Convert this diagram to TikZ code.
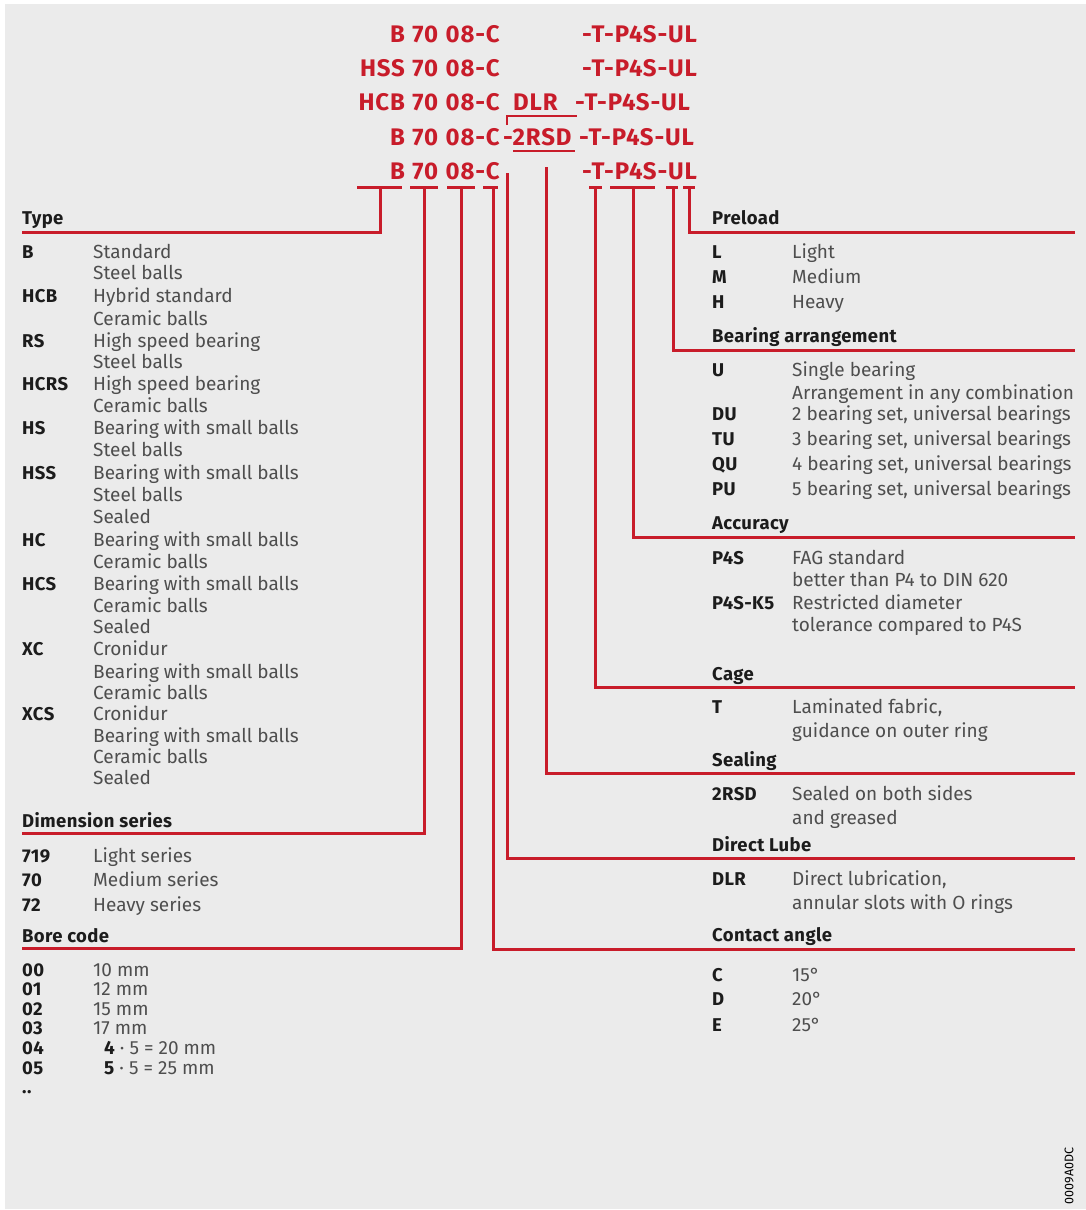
\documentclass[tikz,border=0pt]{standalone}
\usepackage{fontspec}
\setmainfont{Fira Sans}[BoldFeatures={LetterSpace=2}]
\newfontfamily\partfont{Fira Sans}[LetterSpace=3.5,WordSpace=1.15]
\usepackage{tikz}
\usetikzlibrary{positioning}
\usepackage{xcolor}
\definecolor{fagred}{RGB}{200,28,42}
\definecolor{panelgray}{RGB}{235,235,235}
\definecolor{desctext}{RGB}{78,78,78}
\definecolor{labtext}{RGB}{28,28,28}

\begin{document}
\begin{tikzpicture}[x=1pt, y=-1pt,
  partno/.style={text=fagred, font=\fontsize{24}{28}\partfont\bfseries, inner sep=0pt, anchor=base west},
  lab/.style={text=labtext, font=\fontsize{18.5}{22}\selectfont\bfseries, inner sep=0pt, anchor=base west},
  hdr/.style={text=labtext, font=\fontsize{18.5}{22}\selectfont\bfseries, inner sep=0pt, anchor=base west},
  desc/.style={text=desctext, font=\fontsize{19}{22}\selectfont, inner sep=0pt, anchor=base west},
  leader/.style={draw=fagred, line width=3pt}]
\useasboundingbox (0,0) rectangle (1086,1210);
\fill[white] (0,0) rectangle (1086,1210);
\fill[panelgray] (5,4) rectangle (1086,1209);

% ordering designations
\node[partno, anchor=base east] (p1a) at (500,42) {B 70 08-C};
\node[partno] (p1b) at (582,42) {-T-P4S-UL};
\node[partno, anchor=base east] (p2a) at (500,76) {HSS 70 08-C};
\node[partno] (p2b) at (582,76) {-T-P4S-UL};
\node[partno, anchor=base east] (p3a) at (500,110) {HCB 70 08-C};
\node[partno] (p3dlr) at (513,110) {DLR};
\node[partno] (p3b) at (575,110) {-T-P4S-UL};
\node[partno, anchor=base east] (p4a) at (500,145) {B 70 08-C};
\node[partno] (p4rsd) at (503,145) {-2RSD};
\node[partno] (p4b) at (579,145) {-T-P4S-UL};
\node[partno, anchor=base east] (p5a) at (500,179) {B 70 08-C};
\node[partno] (p5b) at (582,179) {-T-P4S-UL};
\draw[leader, line width=2.6pt] (507,125) |- (577,116);
\draw[leader, line width=2.6pt] (513,151) -- (575,151);

% bars under the code parts
\draw[leader] (357,187) -- (402,187);
\draw[leader] (410,187) -- (438,187);
\draw[leader] (447,187) -- (475,187);
\draw[leader] (483,187) -- (498,187);
\draw[leader] (589,187) -- (602,187);
\draw[leader] (610,187) -- (655,187);
\draw[leader] (666,187) -- (678,187);
\draw[leader] (683,187) -- (695,187);
\coordinate (kType) at (380,187);
\coordinate (kDim) at (424,187);
\coordinate (kBore) at (461,187);
\coordinate (kAngle) at (493,187);
\coordinate (kLube) at (507,173);
\coordinate (kSeal) at (546,167);
\coordinate (kCage) at (595,187);
\coordinate (kAcc) at (633,187);
\coordinate (kArr) at (673,187);
\coordinate (kPre) at (689,187);
\coordinate (rType) at (22,232);
\coordinate (rDim) at (22,833);
\coordinate (rBore) at (22,948);
\coordinate (rAngle) at (1075,949);
\coordinate (rLube) at (1075,858);
\coordinate (rSeal) at (1075,773);
\coordinate (rCage) at (1075,687);
\coordinate (rAcc) at (1075,537);
\coordinate (rArr) at (1075,350);
\coordinate (rPre) at (1075,232);
\draw[leader] (kType) |- (rType);
\draw[leader] (kDim) |- (rDim);
\draw[leader] (kBore) |- (rBore);
\draw[leader] (kAngle) |- (rAngle);
\draw[leader] (kLube) |- (rLube);
\draw[leader] (kSeal) |- (rSeal);
\draw[leader] (kCage) |- (rCage);
\draw[leader] (kAcc) |- (rAcc);
\draw[leader] (kArr) |- (rArr);
\draw[leader] (kPre) |- (rPre);

% left column
\node[hdr] (hType) at (22,224) {Type};
\node[lab] (tB) at (22,258) {B};
\node[desc] (tBa) at (93,258) {Standard};
\node[desc] (tBb) at (93,279) {Steel balls};
\node[lab] (tHCB) at (22,302) {HCB};
\node[desc] (tHCBa) at (93,302) {Hybrid standard};
\node[desc] (tHCBb) at (93,325) {Ceramic balls};
\node[lab] (tRS) at (22,347) {RS};
\node[desc] (tRSa) at (93,347) {High speed bearing};
\node[desc] (tRSb) at (93,368) {Steel balls};
\node[lab] (tHCRS) at (22,390) {HCRS};
\node[desc] (tHCRSa) at (93,390) {High speed bearing};
\node[desc] (tHCRSb) at (93,412) {Ceramic balls};
\node[lab] (tHS) at (22,434) {HS};
\node[desc] (tHSa) at (93,434) {Bearing with small balls};
\node[desc] (tHSb) at (93,456) {Steel balls};
\node[lab] (tHSS) at (22,479) {HSS};
\node[desc] (tHSSa) at (93,479) {Bearing with small balls};
\node[desc] (tHSSb) at (93,501) {Steel balls};
\node[desc] (tHSSc) at (93,523) {Sealed};
\node[lab] (tHC) at (22,546) {HC};
\node[desc] (tHCa) at (93,546) {Bearing with small balls};
\node[desc] (tHCb) at (93,568) {Ceramic balls};
\node[lab] (tHCS) at (22,590) {HCS};
\node[desc] (tHCSa) at (93,590) {Bearing with small balls};
\node[desc] (tHCSb) at (93,612) {Ceramic balls};
\node[desc] (tHCSc) at (93,633) {Sealed};
\node[lab] (tXC) at (22,655) {XC};
\node[desc] (tXCa) at (93,655) {Cronidur};
\node[desc] (tXCb) at (93,678) {Bearing with small balls};
\node[desc] (tXCc) at (93,699) {Ceramic balls};
\node[lab] (tXCS) at (22,720) {XCS};
\node[desc] (tXCSa) at (93,720) {Cronidur};
\node[desc] (tXCSb) at (93,742) {Bearing with small balls};
\node[desc] (tXCSc) at (93,763) {Ceramic balls};
\node[desc] (tXCSd) at (93,784) {Sealed};

\node[hdr] (hDim) at (22,827) {Dimension series};
\node[lab] (d719) at (22,862) {719};
\node[desc] (d719a) at (93,862) {Light series};
\node[lab] (d70) at (22,886) {70};
\node[desc] (d70a) at (93,886) {Medium series};
\node[lab] (d72) at (22,911) {72};
\node[desc] (d72a) at (93,911) {Heavy series};

\node[hdr] (hBore) at (22,942) {Bore code};
\node[lab] (b00) at (22,976) {00};
\node[desc] (b00a) at (93,976) {10 mm};
\node[lab] (b01) at (22,995) {01};
\node[desc] (b01a) at (93,995) {12 mm};
\node[lab] (b02) at (22,1015) {02};
\node[desc] (b02a) at (93,1015) {15 mm};
\node[lab] (b03) at (22,1034) {03};
\node[desc] (b03a) at (93,1034) {17 mm};
\node[lab] (b04) at (22,1054) {04};
\node[desc] (b04a) at (104,1054) {{\bfseries\color{labtext}4} · 5 = 20 mm};
\node[lab] (b05) at (22,1074) {05};
\node[desc] (b05a) at (104,1074) {{\bfseries\color{labtext}5} · 5 = 25 mm};
\node[lab] (bdots) at (22,1093) {..};

% right column
\node[hdr] (hPre) at (712,224) {Preload};
\node[lab] (pL) at (712,258) {L};
\node[desc] (pLa) at (792,258) {Light};
\node[lab] (pM) at (712,283) {M};
\node[desc] (pMa) at (792,283) {Medium};
\node[lab] (pH) at (712,308) {H};
\node[desc] (pHa) at (792,308) {Heavy};

\node[hdr] (hArr) at (712,342) {Bearing arrangement};
\node[lab] (aU) at (712,376) {U};
\node[desc] (aUa) at (792,376) {Single bearing};
\node[desc] (aUb) at (792,399) {Arrangement in any combination};
\node[lab] (aDU) at (712,420) {DU};
\node[desc] (aDUa) at (792,420) {2 bearing set, universal bearings};
\node[lab] (aTU) at (712,445) {TU};
\node[desc] (aTUa) at (792,445) {3 bearing set, universal bearings};
\node[lab] (aQU) at (712,470) {QU};
\node[desc] (aQUa) at (792,470) {4 bearing set, universal bearings};
\node[lab] (aPU) at (712,495) {PU};
\node[desc] (aPUa) at (792,495) {5 bearing set, universal bearings};

\node[hdr] (hAcc) at (712,529) {Accuracy};
\node[lab] (cP4S) at (712,564) {P4S};
\node[desc] (cP4Sa) at (792,564) {FAG standard};
\node[desc] (cP4Sb) at (792,586) {better than P4 to DIN 620};
\node[lab] (cK5) at (712,609) {P4S-K5};
\node[desc] (cK5a) at (792,609) {Restricted diameter};
\node[desc] (cK5b) at (792,631) {tolerance compared to P4S};

\node[hdr] (hCage) at (712,680) {Cage};
\node[lab] (gT) at (712,713) {T};
\node[desc] (gTa) at (792,713) {Laminated fabric,};
\node[desc] (gTb) at (792,737) {guidance on outer ring};

\node[hdr] (hSeal) at (712,766) {Sealing};
\node[lab] (s2RSD) at (712,800) {2RSD};
\node[desc] (s2RSDa) at (792,800) {Sealed on both sides};
\node[desc] (s2RSDb) at (792,824) {and greased};

\node[hdr] (hLube) at (712,851) {Direct Lube};
\node[lab] (lDLR) at (712,885) {DLR};
\node[desc] (lDLRa) at (792,885) {Direct lubrication,};
\node[desc] (lDLRb) at (792,909) {annular slots with O rings};

\node[hdr] (hAngle) at (712,941) {Contact angle};
\node[lab] (nC) at (712,981) {C};
\node[desc] (nCa) at (792,981) {15°};
\node[lab] (nD) at (712,1005) {D};
\node[desc] (nDa) at (792,1005) {20°};
\node[lab] (nE) at (712,1031) {E};
\node[desc] (nEa) at (792,1031) {25°};

\node[font=\fontsize{12.5}{14}\selectfont, text=black, rotate=90, inner sep=0pt] (figno) at (1069,1176) {0009A0DC};
\end{tikzpicture}
\end{document}
